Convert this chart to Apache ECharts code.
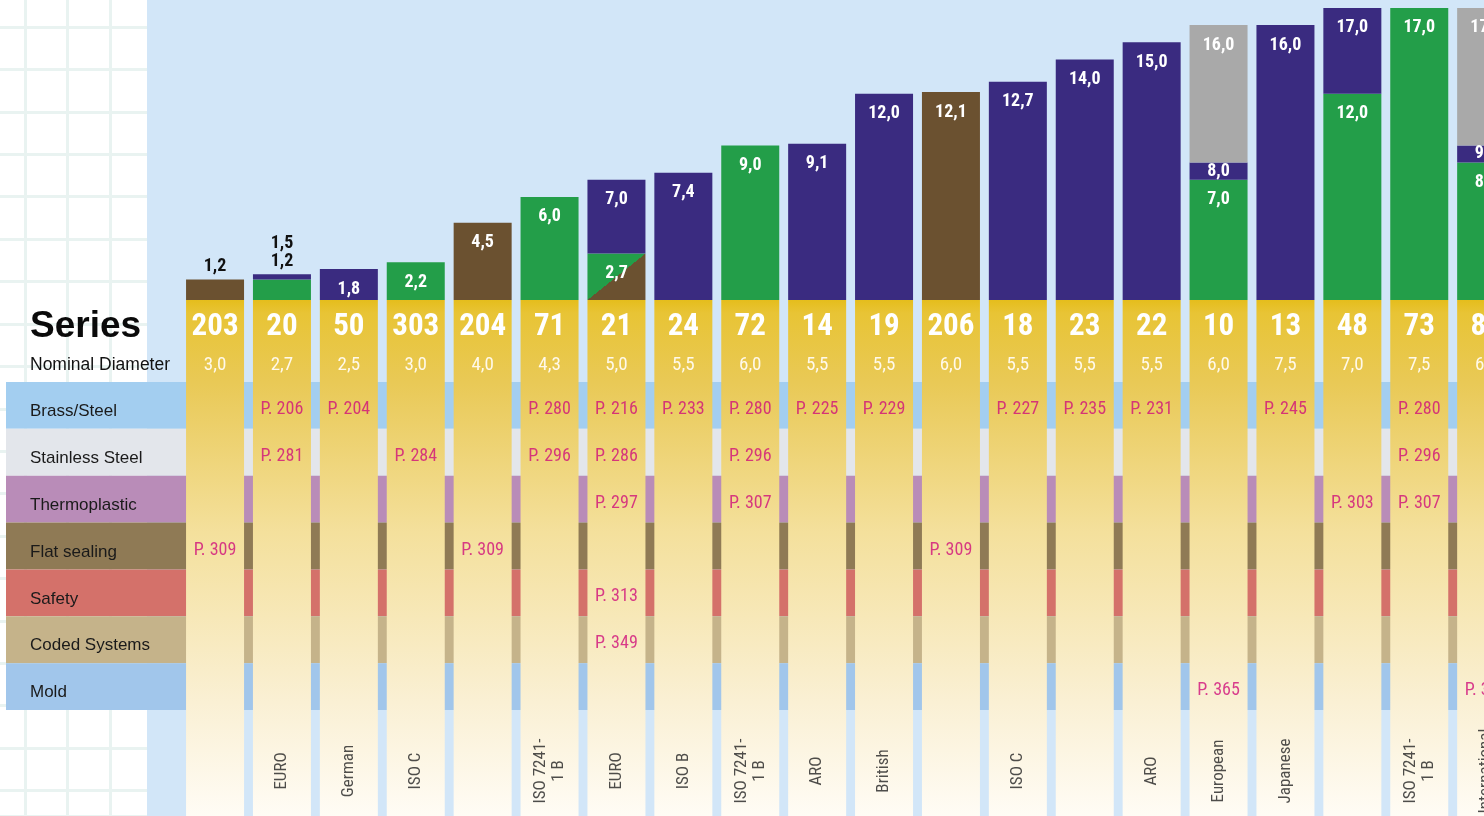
<!DOCTYPE html>
<html><head><meta charset="utf-8">
<script src="https://cdn.jsdelivr.net/npm/echarts@6/dist/echarts.min.js"></script>
<style>html,body{margin:0;padding:0;background:#fff;}#c{width:1484px;height:816px;}</style>
</head><body><div id="c"></div>
<script>
// ---------- data ----------
const categories = ['203','20','50','303','204','71','21','24','72','14','19','206','18','23','22','10','13','48','73','83'];
const diameters  = ['3,0','2,7','2,5','3,0','4,0','4,3','5,0','5,5','6,0','5,5','5,5','6,0','5,5','5,5','5,5','6,0','7,5','7,0','7,5','6,0'];
const profiles   = ['','EURO','German','ISO C','','ISO 7241-\n1 B','EURO','ISO B','ISO 7241-\n1 B','ARO','British','','ISO C','','ARO','European','Japanese','','ISO 7241-\n1 B','International'];
const rows = ['Brass/Steel','Stainless Steel','Thermoplastic','Flat sealing','Safety','Coded Systems','Mold'];
// cumulative top value of each coloured segment (bottom to top)
const brownTop  = [1.2,null,null,null,4.5,null,null,null,null,null,null,12.1,null,null,null,null,null,null,null,null];
const mixedTop  = [null,null,null,null,null,null,2.7,null,null,null,null,null,null,null,null,null,null,null,null,null];
const greenTop  = [null,1.2,null,2.2,null,6.0,null,null,9.0,null,null,null,null,null,null,7.0,null,12.0,17.0,8.0];
const purpleTop = [null,1.5,1.8,null,null,null,7.0,7.4,null,9.1,12.0,null,12.7,14.0,15.0,8.0,16.0,17.0,null,9.0];
const grayTop   = [null,null,null,null,null,null,null,null,null,null,null,null,null,null,null,16.0,null,null,null,17.0];
// page references: [column, row, text]
const pageRefs = [
  [0,3,'P. 309'],
  [1,0,'P. 206'],[1,1,'P. 281'],
  [2,0,'P. 204'],
  [3,1,'P. 284'],
  [4,3,'P. 309'],
  [5,0,'P. 280'],[5,1,'P. 296'],
  [6,0,'P. 216'],[6,1,'P. 286'],[6,2,'P. 297'],[6,4,'P. 313'],[6,5,'P. 349'],
  [7,0,'P. 233'],
  [8,0,'P. 280'],[8,1,'P. 296'],[8,2,'P. 307'],
  [9,0,'P. 225'],
  [10,0,'P. 229'],
  [11,3,'P. 309'],
  [12,0,'P. 227'],
  [13,0,'P. 235'],
  [14,0,'P. 231'],
  [15,6,'P. 365'],
  [16,0,'P. 245'],
  [17,2,'P. 303'],
  [18,0,'P. 280'],[18,1,'P. 296'],[18,2,'P. 307'],
  [19,6,'P. 365']
];

// ---------- styling ----------
const NARROW = '"Roboto Condensed","Liberation Sans Narrow","Liberation Sans",Arial,sans-serif';
const SANS = '"Liberation Sans",Arial,"Helvetica",sans-serif';
const PX_PER_UNIT = 17.18, ZERO_Y = 300, H = 816;
const Y_MAX = ZERO_Y / PX_PER_UNIT, Y_MIN = -(H - ZERO_Y) / PX_PER_UNIT;
const COL_LEFT = 181.6, COL_W = 1338, BAR_W = 58;
const bandColors = ['#A3CEF0','#E3E6EB','#B98CB8','#8F7A55','#D4716A','#C5B38A','#A1C6EB'];
const fmt = v => v.toFixed(1).replace('.', ',');

const mixedFill = new echarts.graphic.LinearGradient(0, 0, 0.78, 1.22, [
  {offset:0,color:'#239E49'},{offset:0.5,color:'#239E49'},{offset:0.5,color:'#6B5130'},{offset:1,color:'#6B5130'}]);
const layers = [
  {name:'brown', tops:brownTop, color:'#6B5130'},
  {name:'mixed', tops:mixedTop, color:mixedFill},
  {name:'green', tops:greenTop, color:'#239E49'},
  {name:'purple', tops:purpleTop, color:'#3A2B80'},
  {name:'gray', tops:grayTop, color:'#A9A9A9'}
];

// build stacked increments + labels
const layerData = layers.map(() => []);
categories.forEach((c, i) => {
  const tops = layers.map(l => l.tops[i]);
  const present = tops.map((t, k) => t == null ? -1 : k).filter(k => k >= 0);
  const colMax = Math.max(0, ...tops.filter(t => t != null));
  const small = colMax < 1.6;
  let prev = 0;
  layers.forEach((l, k) => {
    const t = tops[k];
    if (t == null) { layerData[k].push('-'); return; }
    const inc = +(t - prev).toFixed(3);
    prev = t;
    let label;
    if (small) {
      const isTop = k === present[present.length - 1];
      label = isTop ? {show:true, position:'top', distance:4, color:'#111', fontWeight:'bold', fontSize:18, lineHeight:18, fontFamily:NARROW,
        formatter: present.map(q => fmt(tops[q])).reverse().join('\n')} : {show:false};
    } else {
      label = {show:true, position: inc <= 1.0 ? 'inside' : 'insideTop', distance:11, color:'#fff', fontWeight:'bold', fontSize:18, fontFamily:NARROW,
        formatter: fmt(t)};
    }
    layerData[k].push({value: inc, label});
  });
});

const yellow = new echarts.graphic.LinearGradient(0, 0, 0, 1, [
  {offset:0,color:'#E5BD1C'},{offset:0.025,color:'#E8C435'},{offset:0.16,color:'#E9C956'},
  {offset:0.45,color:'#F4E09C'},{offset:0.78,color:'#FAF0D4'},{offset:1,color:'#FFFCF5'}]);

const series = [];
series.push({
  type:'bar', xAxisIndex:2, yAxisIndex:2, stack:'a', barWidth:BAR_W, barGap:'-100%', z:2,
  itemStyle:{color:yellow},
  data: categories.map((c, i) => ({value:Y_MIN, label:{show:true, position:'insideTop', distance:0,
    formatter:'{n|' + c + '}\n{d|' + diameters[i] + '}',
    rich:{n:{fontSize:31, fontWeight:'bold', color:'#fff', fontFamily:NARROW, lineHeight:54},
          d:{fontSize:19, fontWeight:'normal', color:'#FFF9EA', fontFamily:NARROW, lineHeight:22}}}}))
});
layers.forEach((l, k) => series.push({
  type:'bar', name:l.name, xAxisIndex:2, yAxisIndex:2, stack:'a', barWidth:BAR_W, barGap:'-100%', z:3,
  itemStyle:{color:l.color}, data:layerData[k]
}));
// page references
series.push({
  type:'scatter', xAxisIndex:3, yAxisIndex:3, symbolSize:0, z:5,
  data: pageRefs,
  label:{show:true, position:'inside', offset:[0,4], formatter:p => p.data[2], color:'#CF0F7A', fontSize:18, fontFamily:NARROW}
});
// profile labels
series.push({
  type:'scatter', xAxisIndex:4, yAxisIndex:4, symbolSize:0, z:5,
  data: profiles.map((p, i) => [i, 0, p]),
  label:{show:true, position:'inside', rotate:90, formatter:p => p.data[2], color:'#222', fontSize:17, lineHeight:18, fontFamily:NARROW, align:'center'}
});

const hidden = {show:false};
const G = {outerBoundsMode:'none', containLabel:false};
const option = {
  animation:false,
  backgroundColor:'#ffffff',
  graphic:[{type:'rect', z:-5, left:147, top:0, shape:{width:1337, height:816}, style:{fill:'#D2E6F8'}}],
  title:[
    {text:'Series', left:30, top:308, padding:0, textStyle:{fontSize:37, fontWeight:'bold', color:'#0a0a0a', fontFamily:SANS}},
    {text:'Nominal Diameter', left:30, top:356, padding:0, textStyle:{fontSize:17.5, fontWeight:'normal', color:'#111', fontFamily:SANS}}
  ],
  grid:[
    Object.assign({left:-17.5, top:-15.4, width:164.5, height:831.4}, G),   // background pattern
    Object.assign({left:6, width:1478, top:382, height:328}, G),            // row bands
    Object.assign({left:COL_LEFT, width:COL_W, top:0, height:H}, G),        // bars
    Object.assign({left:COL_LEFT, width:COL_W, top:382, height:328}, G),    // page refs
    Object.assign({left:COL_LEFT, width:COL_W, top:726, height:90}, G)      // profiles
  ],
  xAxis:[
    {gridIndex:0, type:'value', min:0, max:3.87, interval:1, axisLine:hidden, axisTick:hidden, axisLabel:hidden,
      splitLine:{show:true, showMaxLine:false, lineStyle:{color:'#E9F3F1', width:3}}},
    {gridIndex:1, type:'value', min:0, max:1, show:false},
    {gridIndex:2, type:'category', data:categories, show:false},
    {gridIndex:3, type:'category', data:categories, show:false},
    {gridIndex:4, type:'category', data:categories, show:false}
  ],
  yAxis:[
    {gridIndex:0, type:'value', inverse:true, min:0, max:19.6, interval:1, axisLine:hidden, axisTick:hidden, axisLabel:hidden,
      splitLine:{show:true, lineStyle:{color:'#E9F3F1', width:3}}},
    {gridIndex:1, type:'category', data:rows, inverse:true, z:1, axisLine:hidden, axisTick:hidden, splitLine:hidden,
      splitArea:{show:true, areaStyle:{color:bandColors}},
      axisLabel:{inside:true, margin:24, color:'#1a1a1a', fontSize:17, fontFamily:SANS, verticalAlign:'top', lineHeight:12}},
    {gridIndex:2, type:'value', min:Y_MIN, max:Y_MAX, show:false},
    {gridIndex:3, type:'category', data:rows, inverse:true, show:false},
    {gridIndex:4, type:'category', data:['profile'], show:false}
  ],
  series
};
const chart = echarts.init(document.getElementById('c'), null, {renderer:'canvas'});
chart.setOption(option);
</script></body></html>
